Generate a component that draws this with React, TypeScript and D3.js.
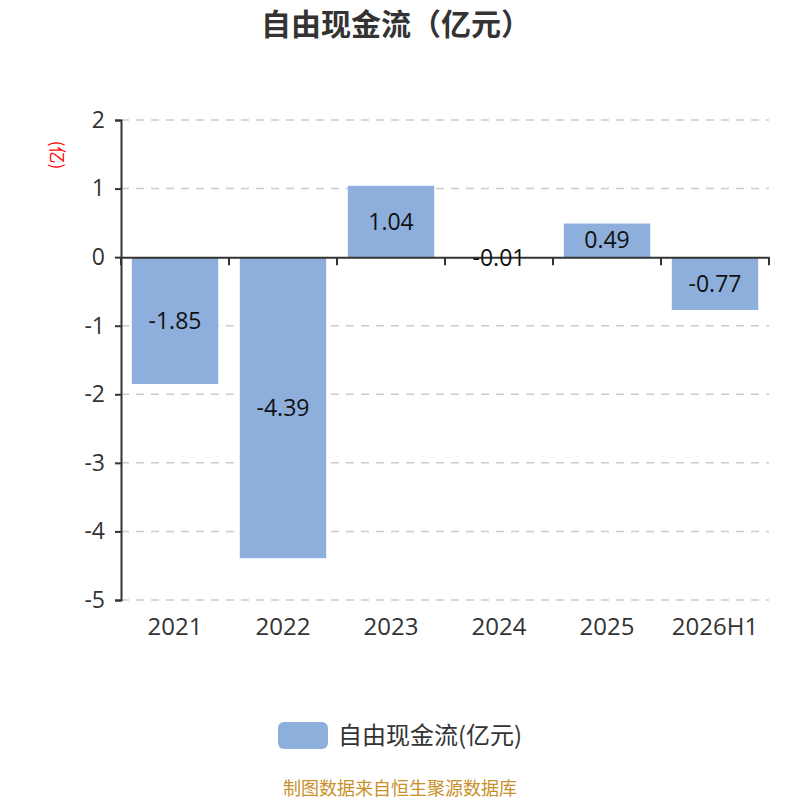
import React, { useEffect, useRef } from "react";
import * as d3 from "d3";

const categories = ["2021", "2022", "2023", "2024", "2025", "2026H1"];
const values = [-1.85, -4.39, 1.04, -0.01, 0.49, -0.77];
const yTicks = [2, 1, 0, -1, -2, -3, -4, -5];

const W = 800;
const H = 800;
const FONT = "'Open Sans', 'Noto Sans CJK SC', sans-serif";
const CJK = "'Noto Sans CJK SC', sans-serif";
const BAR = "#8eaedb";

export default function App() {
  const svgRef = useRef<SVGSVGElement>(null);

  useEffect(() => {
    document.body.style.margin = "0";
    if (!svgRef.current) return;
    const svg = d3.select(svgRef.current);
    svg.selectAll("*").remove();

    const left = 121;
    const right = 769;
    const top = 120;
    const bottom = 600;

    const x = d3.scaleBand().domain(categories).range([left, right]).paddingInner(0.2).paddingOuter(0.1);
    const y = d3.scaleLinear().domain([-5, 2]).range([bottom, top]);

    // title
    svg
      .append("text")
      .attr("x", 396)
      .attr("y", 35)
      .attr("text-anchor", "middle")
      .style("font-family", CJK)
      .style("font-size", "30px")
      .style("font-weight", "bold")
      .style("fill", "#333")
      .text("自由现金流（亿元）");

    // grid
    svg
      .append("g")
      .selectAll("line")
      .data(yTicks.filter((t) => t !== 0))
      .enter()
      .append("line")
      .attr("x1", left)
      .attr("x2", right)
      .attr("y1", (d) => y(d))
      .attr("y2", (d) => y(d))
      .attr("stroke", "#ccc")
      .attr("stroke-width", 1.5)
      .attr("stroke-dasharray", "8,7");

    // bars
    svg
      .append("g")
      .selectAll("rect")
      .data(values)
      .enter()
      .append("rect")
      .attr("x", (d, i) => x(categories[i])!)
      .attr("width", x.bandwidth())
      .attr("y", (d) => y(Math.max(0, d)))
      .attr("height", (d) => Math.abs(y(d) - y(0)))
      .attr("fill", BAR);

    // y axis
    const yAxis = d3.axisLeft(y).tickValues(yTicks).tickSize(6).tickFormat((d) => String(d));
    const ya = svg.append("g").attr("transform", `translate(${left},0)`).call(yAxis);
    ya.select(".domain").attr("stroke", "#333").attr("stroke-width", 2);
    ya.selectAll(".tick line").attr("stroke", "#333").attr("stroke-width", 2);
    ya.selectAll(".tick text")
      .attr("x", -16)
      .style("font-family", FONT)
      .style("font-size", "23px")
      .style("fill", "#333");

    // x axis at zero
    const xAxis = d3.axisBottom(x).tickSize(0).tickFormat(() => "");
    const xa = svg.append("g").attr("transform", `translate(0,${y(0)})`).call(xAxis);
    xa.select(".domain").attr("stroke", "#333").attr("stroke-width", 2);
    const boundaries = d3.range(categories.length + 1).map((i) => left + i * x.step());
    xa.selectAll(".bt")
      .data(boundaries)
      .enter()
      .append("line")
      .attr("x1", (d) => d)
      .attr("x2", (d) => d)
      .attr("y1", 0)
      .attr("y2", 8)
      .attr("stroke", "#333")
      .attr("stroke-width", 2);

    // category labels
    svg
      .append("g")
      .selectAll("text")
      .data(categories)
      .enter()
      .append("text")
      .attr("x", (d) => x(d)! + x.bandwidth() / 2)
      .attr("y", 627)
      .attr("dy", "0.35em")
      .attr("text-anchor", "middle")
      .style("font-family", FONT)
      .style("font-size", "24px")
      .style("fill", "#333")
      .text((d) => d);

    // value labels
    svg
      .append("g")
      .selectAll("text")
      .data(values)
      .enter()
      .append("text")
      .attr("x", (d, i) => x(categories[i])! + x.bandwidth() / 2)
      .attr("y", (d) => (y(d) + y(0)) / 2)
      .attr("dy", "0.35em")
      .attr("text-anchor", "middle")
      .style("font-family", FONT)
      .style("font-size", "23px")
      .style("fill", "#111")
      .text((d) => d.toFixed(2));

    // y unit label
    svg
      .append("text")
      .attr("transform", "translate(57,155) rotate(90)")
      .attr("text-anchor", "middle")
      .attr("dy", "0.35em")
      .style("font-family", CJK)
      .style("font-size", "17px")
      .style("fill", "red")
      .text("(亿)");

    // legend
    svg
      .append("rect")
      .attr("x", 278)
      .attr("y", 722)
      .attr("width", 50)
      .attr("height", 27)
      .attr("rx", 6)
      .attr("fill", BAR);
    svg
      .append("text")
      .attr("x", 338)
      .attr("y", 736)
      .attr("dy", "0.35em")
      .style("font-family", CJK)
      .style("font-size", "24px")
      .style("fill", "#333")
      .text("自由现金流(亿元)");

    // footer
    svg
      .append("text")
      .attr("x", 400)
      .attr("y", 789)
      .attr("dy", "0.35em")
      .attr("text-anchor", "middle")
      .style("font-family", CJK)
      .style("font-size", "18px")
      .style("fill", "#c8902a")
      .text("制图数据来自恒生聚源数据库");
  }, []);

  return <svg ref={svgRef} width={W} height={H} style={{ display: "block", background: "#fff" }} />;
}
